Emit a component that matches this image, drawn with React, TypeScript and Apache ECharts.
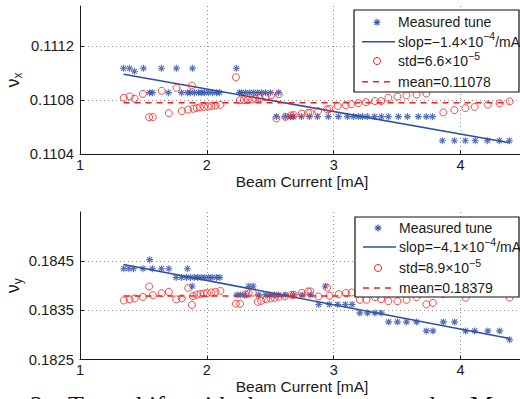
import React, { useEffect, useRef } from "react";
import * as echarts from "echarts";

// ---------- data ----------
const xTicks = [1, 2, 3, 4];

// top panel (nu_x): measured tune (asterisks) [beam current mA, tune]
const topMeasured: [number, number][] = [
  [1.343, 0.111037], [1.390, 0.111037], [1.429, 0.111015], [1.500, 0.111037], [1.642, 0.111037],
  [1.760, 0.111037], [1.887, 0.111037], [2.233, 0.111037],
  [1.548, 0.110856], [1.571, 0.110856], [1.697, 0.110856], [1.800, 0.110856], [1.847, 0.110856],
  [1.871, 0.110856], [1.902, 0.110856], [1.934, 0.110856], [1.957, 0.110856], [1.981, 0.110856],
  [2.013, 0.110856], [2.044, 0.110856], [2.076, 0.110856], [2.099, 0.110856], [2.257, 0.110856],
  [2.273, 0.110856], [2.304, 0.110856], [2.336, 0.110856], [2.367, 0.110856], [2.399, 0.110856],
  [2.430, 0.110856], [2.462, 0.110856], [2.501, 0.110856], [2.564, 0.110856],
  [2.548, 0.110678], [2.619, 0.110678], [2.659, 0.110678], [2.682, 0.110678], [2.745, 0.110678],
  [2.808, 0.110678], [2.872, 0.110678], [2.958, 0.110678], [3.037, 0.110678], [3.108, 0.110678],
  [3.155, 0.110678], [3.195, 0.110678], [3.226, 0.110678], [3.265, 0.110678], [3.321, 0.110678],
  [3.376, 0.110678], [3.431, 0.110678], [3.510, 0.110678], [3.581, 0.110678], [3.667, 0.110678],
  [3.730, 0.110678], [3.778, 0.110678],
  [3.856, 0.110499], [3.951, 0.110499], [4.037, 0.110499], [4.116, 0.110499], [4.211, 0.110499],
  [4.306, 0.110499], [4.385, 0.110499],
];
// top panel: circles
const topCircles: [number, number][] = [
  [1.345, 0.110818], [1.392, 0.110828], [1.431, 0.110811], [1.496, 0.110847], [1.545, 0.110674],
  [1.574, 0.110674], [1.644, 0.11087], [1.7, 0.110704], [1.76, 0.110891], [1.803, 0.110719],
  [1.853, 0.11073], [1.882, 0.110909], [1.894, 0.110736], [1.92, 0.110742], [1.946, 0.110746],
  [1.978, 0.11075], [2.009, 0.110753], [2.036, 0.110757], [2.068, 0.110761], [2.107, 0.110765],
  [2.229, 0.11097], [2.261, 0.1108], [2.291, 0.1108], [2.322, 0.110802], [2.357, 0.110805],
  [2.383, 0.11081], [2.417, 0.110815], [2.462, 0.110824], [2.507, 0.110837], [2.567, 0.110844],
  [2.548, 0.110664], [2.619, 0.110676], [2.664, 0.110687], [2.685, 0.110689], [2.748, 0.110701],
  [2.797, 0.110706], [2.816, 0.110707], [2.878, 0.110719], [2.948, 0.110731], [2.966, 0.110736],
  [3.032, 0.110757], [3.095, 0.110763], [3.139, 0.11077], [3.195, 0.110778], [3.254, 0.110785],
  [3.325, 0.110793], [3.374, 0.110793], [3.431, 0.110817], [3.502, 0.110827], [3.574, 0.110836],
  [3.653, 0.110842], [3.73, 0.11085], [3.864, 0.110709], [3.951, 0.110726], [4.038, 0.110741],
  [4.111, 0.11075], [4.215, 0.110767], [4.308, 0.110776], [4.387, 0.110791],
];
const topFit: [number, number][] = [[1.343, 0.110993], [4.385, 0.110484]];
const topMean: [number, number][] = [[1.343, 0.11078], [4.385, 0.11078]];
const topYTicks = { min: 0.1104, max: 0.1115, step: 0.0004 };

// bottom panel (nu_y)
const botMeasured: [number, number][] = [
  [1.345, 0.184347], [1.385, 0.184347], [1.422, 0.184347], [1.496, 0.184347], [1.571, 0.184347],
  [1.642, 0.184347], [1.700, 0.184347], [1.847, 0.184347],
  [1.549, 0.184531],
  [1.758, 0.184168], [1.800, 0.184168], [1.839, 0.184168], [1.871, 0.184168], [1.902, 0.184168],
  [1.928, 0.184168], [1.955, 0.184168], [1.983, 0.184168], [2.015, 0.184168], [2.042, 0.184168],
  [2.076, 0.184168], [2.102, 0.184168],
  [1.884, 0.183991], [2.330, 0.183991], [2.365, 0.183991], [2.934, 0.183991],
  [2.237, 0.183814], [2.265, 0.183814], [2.300, 0.183814], [2.409, 0.183814], [2.462, 0.183814],
  [2.496, 0.183814], [2.533, 0.183814], [2.567, 0.183814], [2.619, 0.183814], [2.682, 0.183814],
  [2.751, 0.183814], [2.816, 0.183814],
  [2.882, 0.183619], [2.966, 0.183619], [3.032, 0.183619], [3.092, 0.183619], [3.145, 0.183619],
  [3.206, 0.183448], [3.266, 0.183448], [3.325, 0.183448], [3.374, 0.183448],
  [3.433, 0.183265], [3.502, 0.183265], [3.574, 0.183265], [3.653, 0.183265], [3.864, 0.183265],
  [3.953, 0.183265],
  [3.730, 0.183082], [3.782, 0.183082], [4.040, 0.183082], [4.111, 0.183082], [4.215, 0.183082],
  [4.308, 0.183082],
  [4.387, 0.182903],
];
const botCircles: [number, number][] = [
  [1.345, 0.1837], [1.392, 0.183723], [1.431, 0.183741], [1.496, 0.183774], [1.545, 0.183985],
  [1.574, 0.183808], [1.644, 0.183849], [1.7, 0.183875], [1.759, 0.183723], [1.803, 0.183743],
  [1.853, 0.183955], [1.882, 0.183611], [1.89, 0.183788], [1.92, 0.183818], [1.95, 0.183833],
  [1.976, 0.183843], [2.002, 0.183849], [2.036, 0.183863], [2.068, 0.183875], [2.107, 0.183894],
  [2.229, 0.183635], [2.262, 0.183633], [2.304, 0.183825], [2.33, 0.183843], [2.362, 0.183859],
  [2.401, 0.183672], [2.428, 0.183692], [2.467, 0.183727], [2.501, 0.183741], [2.533, 0.183753],
  [2.567, 0.183774], [2.615, 0.183782], [2.667, 0.183814], [2.685, 0.183818], [2.748, 0.183855],
  [2.798, 0.183883], [2.816, 0.183886], [2.879, 0.183782], [2.948, 0.183961], [2.966, 0.183798],
  [3.039, 0.183829], [3.096, 0.183855], [3.141, 0.183863], [3.206, 0.183713], [3.258, 0.183715],
  [3.325, 0.183768], [3.374, 0.183727], [3.431, 0.183686], [3.502, 0.183686], [3.574, 0.183713],
  [3.653, 0.183768], [3.73, 0.183621], [3.782, 0.183652], [3.861, 0.183829], [3.953, 0.183869],
  [4.04, 0.183757], [4.111, 0.183869], [4.215, 0.183869], [4.308, 0.183869], [4.387, 0.183757],
];
const botFit: [number, number][] = [[1.343, 0.184433], [4.387, 0.182927]];
const botMean: [number, number][] = [[1.343, 0.18379], [4.387, 0.18379]];
const botYTicks = { min: 0.1825, max: 0.1855, step: 0.001 };

const topLegend = ["Measured tune", "slop=\u22121.4\u00d710{s|\u22124}/mA", "std=6.6\u00d710{s|\u22125}", "mean=0.11078"];
const botLegend = ["Measured tune", "slop=\u22124.1\u00d710{s|\u22124}/mA", "std=8.9\u00d710{s|\u22125}", "mean=0.18379"];
const xName = "Beam Current [mA]";
const captionWords = ["2:", "Tune", "shift", "with", "beam", "current", "and", "M"];

// ---------- styling ----------
const FONT = "'Liberation Sans', Arial, Helvetica, sans-serif";
const SERIF = "'Liberation Serif', 'Times New Roman', serif";
const BLUE = "#2e4fa8";
const RED = "#ff1a1a";
const INK = "#1a1a1a";
const STAR = "path://M5 0L5 10M0 5L10 5M1.46 1.46L8.54 8.54M1.46 8.54L8.54 1.46";

function makeXAxis(gridIndex: number) {
  return {
    gridIndex,
    type: "value",
    min: xTicks[0],
    max: 4.5,
    interval: 1,
    name: xName,
    nameLocation: "middle",
    nameGap: 19,
    nameMoveOverlap: false,
    nameTextStyle: { fontSize: 15.5, color: INK, fontFamily: FONT },
    axisLine: { onZero: false, lineStyle: { color: INK, width: 1 } },
    axisTick: { inside: true, length: 4, lineStyle: { color: INK } },
    axisLabel: { margin: 3, fontSize: 14.5, color: INK, fontFamily: FONT, showMaxLabel: false },
    splitLine: { show: true, showMinLine: false, showMaxLine: false, lineStyle: { color: "#8a8a8a", type: [1, 3], width: 1 } },
  };
}

function makeYAxis(gridIndex: number, t: { min: number; max: number; step: number }, sub: string) {
  return {
    gridIndex,
    type: "value",
    min: t.min,
    max: t.max,
    interval: t.step,
    name: "{n|\u03bd}{s|" + sub + "}",
    nameLocation: "middle",
    nameGap: 56,
    nameMoveOverlap: false,
    nameRotate: 90,
    nameTextStyle: {
      color: INK,
      fontFamily: FONT,
      rich: {
        n: { fontSize: 18, lineHeight: 22, fontFamily: FONT, color: INK },
        s: { fontSize: 12, lineHeight: 12, verticalAlign: "bottom", fontFamily: FONT, color: INK },
      },
    },
    axisLine: { onZero: false, lineStyle: { color: INK, width: 1 } },
    axisTick: { inside: true, length: 4, lineStyle: { color: INK } },
    axisLabel: {
      margin: 6,
      fontSize: 14.8,
      color: INK,
      fontFamily: FONT,
      showMaxLabel: false,
      formatter: (v: number) => v.toFixed(4),
    },
    splitLine: { show: true, showMinLine: false, showMaxLine: false, lineStyle: { color: "#8a8a8a", type: [1, 3], width: 1 } },
  };
}

function panelSeries(idx: number, measured: [number, number][], circles: [number, number][], fit: [number, number][], mean: [number, number][]) {
  return [
    {
      type: "scatter",
      xAxisIndex: idx,
      yAxisIndex: idx,
      data: measured,
      symbol: STAR,
      symbolSize: 7,
      itemStyle: { color: "rgba(0,0,0,0)", borderColor: BLUE, borderWidth: 1.1 },
      z: 2,
    },
    {
      type: "line",
      xAxisIndex: idx,
      yAxisIndex: idx,
      data: fit,
      showSymbol: false,
      lineStyle: { color: BLUE, width: 1.5 },
      z: 3,
    },
    {
      type: "scatter",
      xAxisIndex: idx,
      yAxisIndex: idx,
      data: circles,
      symbol: "circle",
      symbolSize: 7,
      itemStyle: { color: "rgba(0,0,0,0)", borderColor: RED, borderWidth: 1 },
      z: 4,
    },
    {
      type: "line",
      xAxisIndex: idx,
      yAxisIndex: idx,
      data: mean,
      showSymbol: false,
      lineStyle: { color: RED, width: 1.5, type: [6, 5] },
      z: 5,
    },
  ];
}

function legendGraphic(x0: number, y0: number, w: number, h: number, rows: number[], labels: string[]) {
  const cx = x0 + 23;
  const lx1 = x0 + 8;
  const lx2 = x0 + 41;
  const tx = x0 + 44;
  const Z = 100;
  const r = 3.5;
  const d = r * 0.71;
  const els: any[] = [
    { type: "rect", z: Z, shape: { x: x0, y: y0, width: w, height: h }, style: { fill: "#fff", stroke: "#111", lineWidth: 1.2 } },
    { type: "line", z: Z + 1, shape: { x1: cx, y1: rows[0] - r, x2: cx, y2: rows[0] + r }, style: { stroke: BLUE, lineWidth: 1.1 } },
    { type: "line", z: Z + 1, shape: { x1: cx - r, y1: rows[0], x2: cx + r, y2: rows[0] }, style: { stroke: BLUE, lineWidth: 1.1 } },
    { type: "line", z: Z + 1, shape: { x1: cx - d, y1: rows[0] - d, x2: cx + d, y2: rows[0] + d }, style: { stroke: BLUE, lineWidth: 1.1 } },
    { type: "line", z: Z + 1, shape: { x1: cx - d, y1: rows[0] + d, x2: cx + d, y2: rows[0] - d }, style: { stroke: BLUE, lineWidth: 1.1 } },
    { type: "line", z: Z + 1, shape: { x1: lx1, y1: rows[1], x2: lx2, y2: rows[1] }, style: { stroke: BLUE, lineWidth: 1.5 } },
    { type: "circle", z: Z + 1, shape: { cx, cy: rows[2], r: 3.5 }, style: { fill: "rgba(0,0,0,0)", stroke: RED, lineWidth: 1 } },
    { type: "line", z: Z + 1, shape: { x1: lx1, y1: rows[3], x2: lx2, y2: rows[3] }, style: { stroke: RED, lineWidth: 1.5, lineDash: [6, 5] } },
  ];
  labels.forEach((lab, i) => {
    els.push({
      type: "text",
      z: Z + 2,
      x: tx,
      y: rows[i],
      style: {
        text: lab,
        fontSize: 14,
        fontFamily: FONT,
        fill: INK,
        align: "left",
        verticalAlign: "middle",
        lineHeight: 22,
        rich: {
          s: { fontSize: 10.5, lineHeight: 10, verticalAlign: "top", fontFamily: FONT, fill: INK, color: INK },
        },
      },
    });
  });
  return els;
}

const captionX = [30, 68, 126, 186, 248, 312, 398, 470];

export default function App() {
  const ref = useRef<HTMLDivElement>(null);
  useEffect(() => {
    const prevMargin = document.body.style.margin;
    document.body.style.margin = "0";
    if (!ref.current) return;
    const chart = echarts.init(ref.current, undefined, { renderer: "svg" });
    const caption = captionWords.map((wd, i) => ({
      type: "text",
      z: 100,
      x: captionX[i],
      y: 405,
      style: { text: wd, fontSize: 26, fontFamily: SERIF, fill: "#111", align: "left", verticalAlign: "middle" },
    }));
    chart.setOption({
      animation: false,
      backgroundColor: "#ffffff",
      grid: [
        { left: 80, top: 6, width: 444, height: 148, containLabel: false, outerBoundsMode: "none" },
        { left: 80, top: 212, width: 444, height: 147.5, containLabel: false, outerBoundsMode: "none" },
      ],
      xAxis: [makeXAxis(0), makeXAxis(1)],
      yAxis: [makeYAxis(0, topYTicks, "x"), makeYAxis(1, botYTicks, "y")],
      series: [
        ...panelSeries(0, topMeasured, topCircles, topFit, topMean),
        ...panelSeries(1, botMeasured, botCircles, botFit, botMean),
      ],
      graphic: [
        ...legendGraphic(354, 10, 165, 82, [22.3, 41.7, 61, 81.7], topLegend),
        ...legendGraphic(355, 217, 164, 80, [228, 247, 268, 288], botLegend),
        ...caption,
      ],
    });
    return () => {
      chart.dispose();
      document.body.style.margin = prevMargin;
    };
  }, []);
  return (
    <div
      ref={ref}
      style={{ position: "fixed", left: 0, top: 0, width: 520, height: 399, overflow: "hidden", background: "#fff" }}
    />
  );
}
